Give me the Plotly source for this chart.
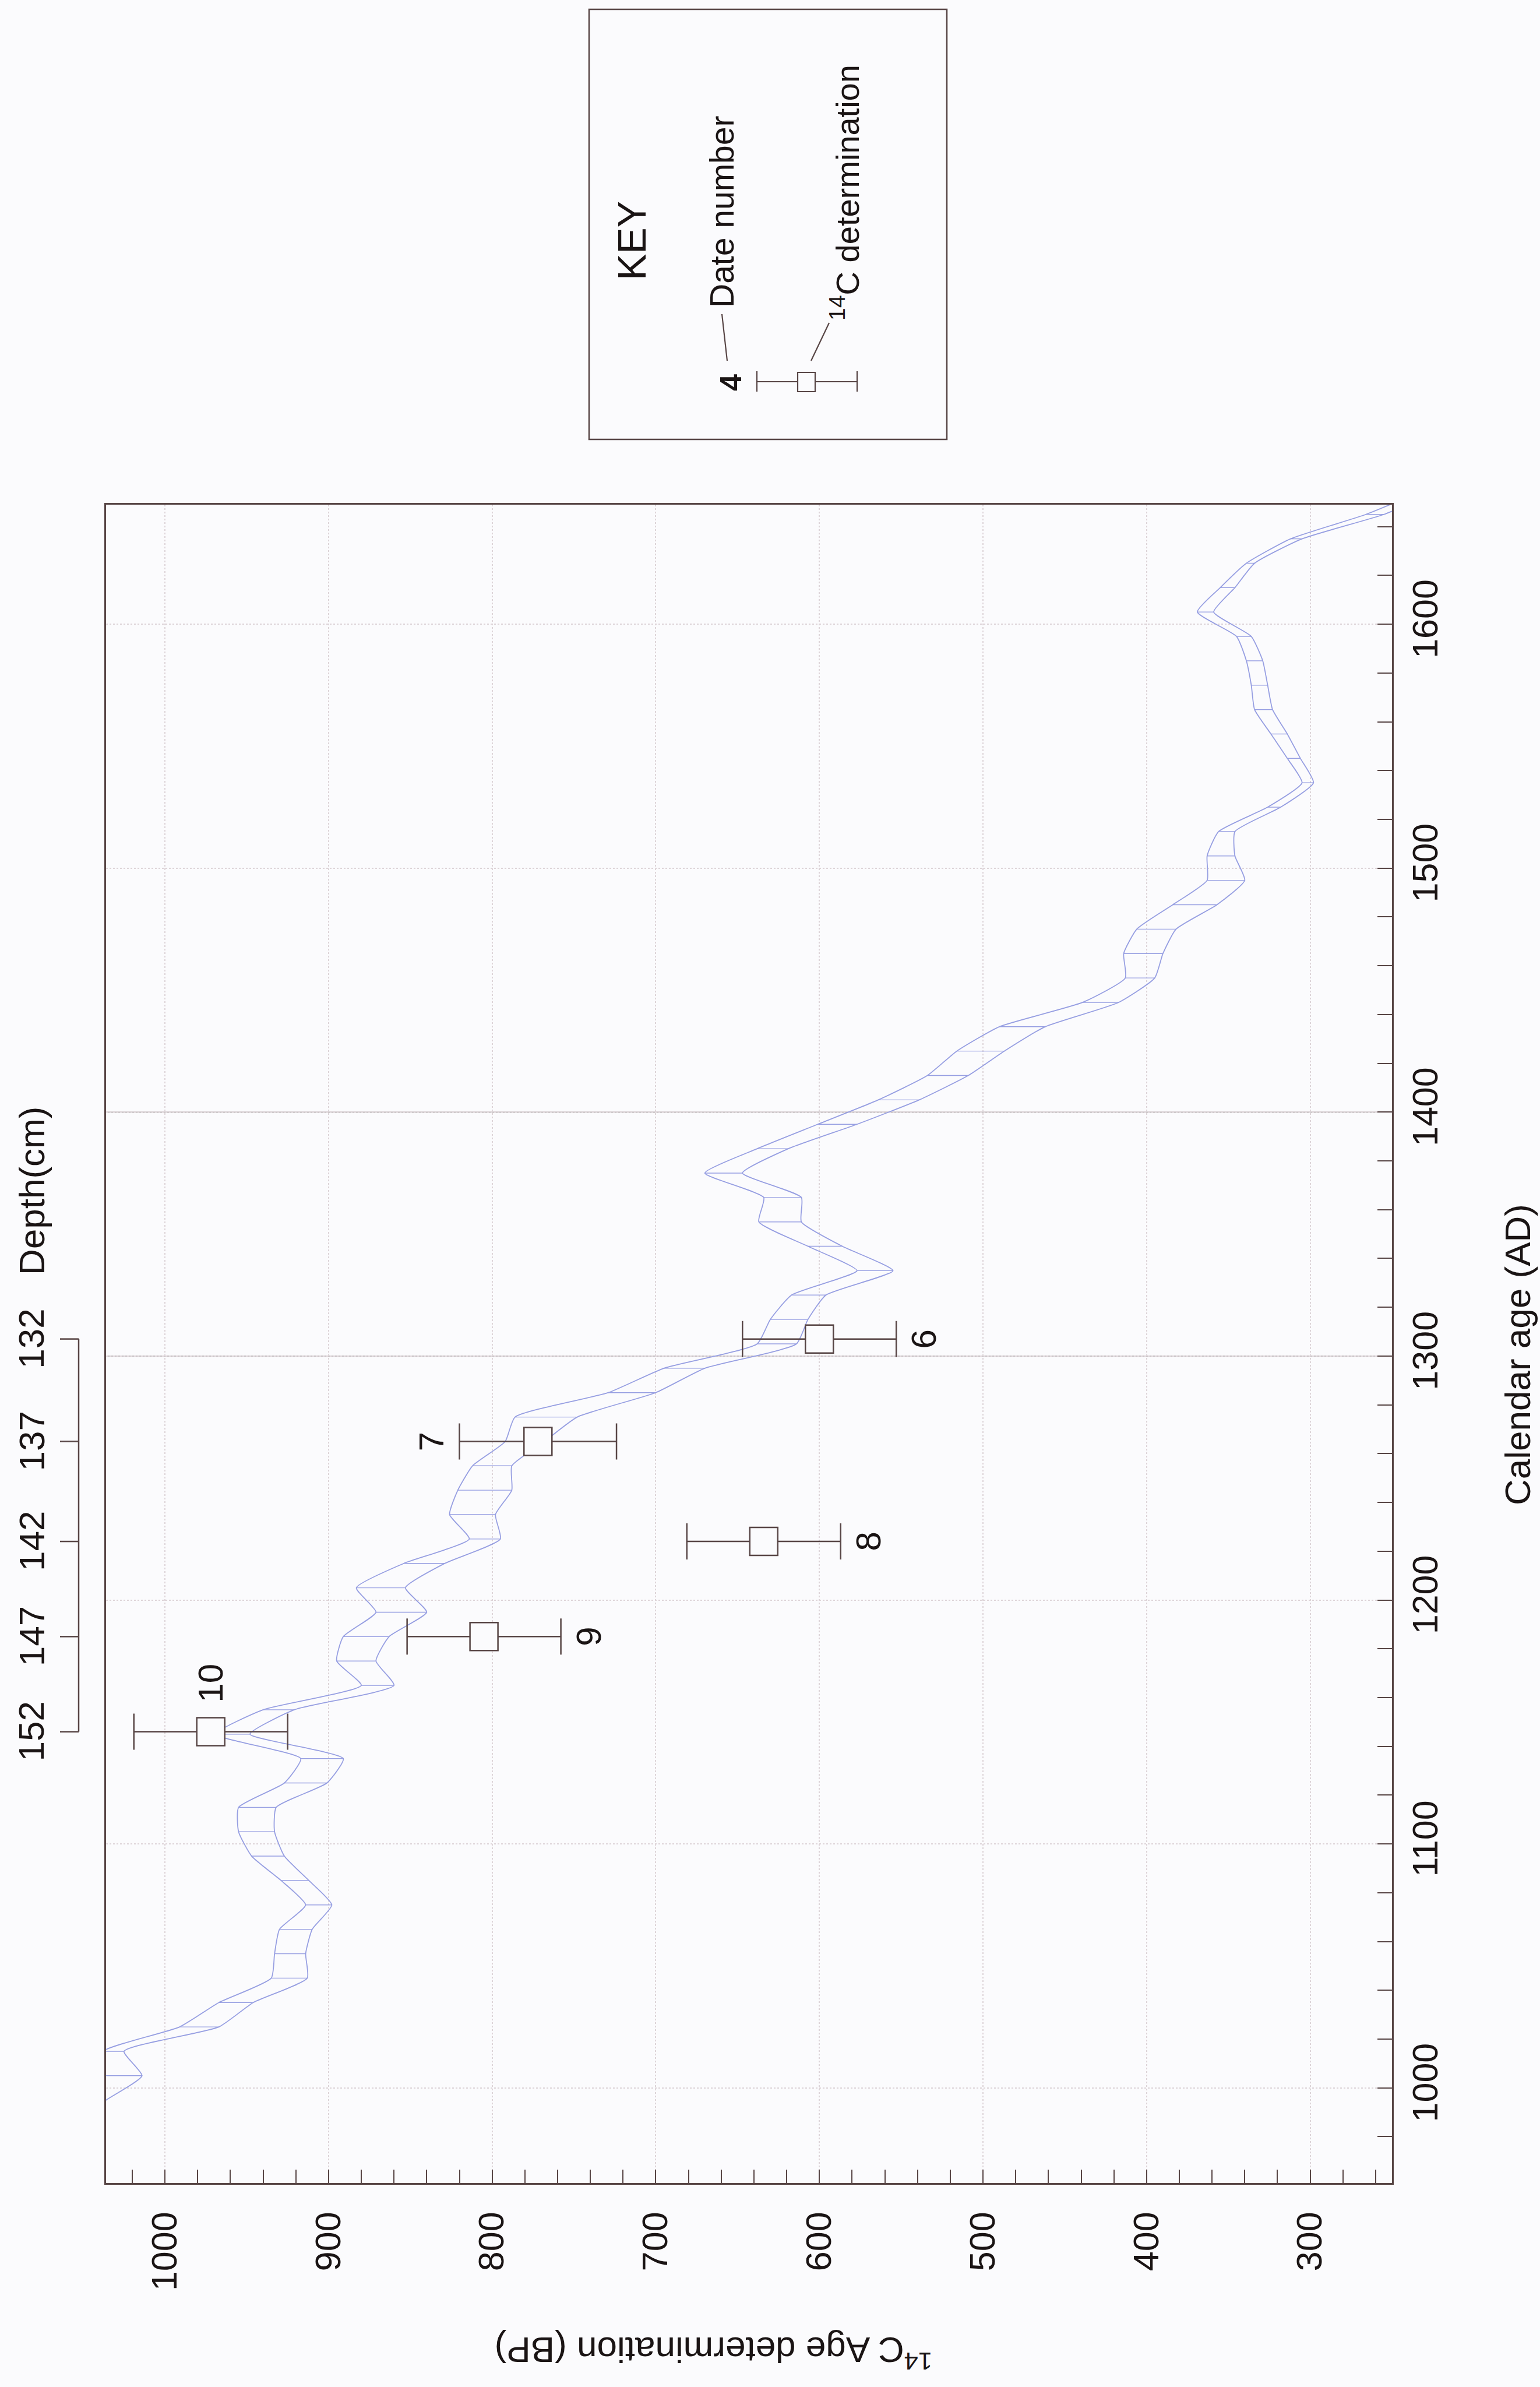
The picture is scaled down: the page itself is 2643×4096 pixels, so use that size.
import plotly.graph_objects as go

# ---------------- data ----------------
# calibration curve: calendar year AD, upper and lower 14C bound (BP)
cal_years = [985, 995, 1005, 1015, 1025, 1035, 1045, 1055, 1065, 1075, 1085, 1095,
             1105, 1115, 1125, 1135, 1145, 1155, 1165, 1175, 1185, 1195, 1205, 1215,
             1225, 1235, 1245, 1255, 1265, 1275, 1285, 1295, 1305, 1315, 1325, 1335,
             1345, 1355, 1365, 1375, 1385, 1395, 1405, 1415, 1425, 1435, 1445, 1455,
             1465, 1475, 1485, 1495, 1505, 1515, 1525, 1535, 1545, 1555, 1565, 1575,
             1585, 1595, 1605, 1615, 1625, 1635, 1645, 1655]
c14_upper = [1070, 1050, 1045, 1038, 991, 967, 935, 933, 930, 914, 929, 947,
             955, 955, 927, 917, 969, 940, 880, 895, 891, 871, 883, 854,
             814, 826, 821, 812, 792, 786, 729, 695, 638, 630, 617, 577,
             607, 637, 634, 670, 638, 601, 564, 534, 516, 490, 439, 413,
             414, 406, 384, 363, 363, 356, 326, 305, 314, 324, 334, 336,
             339, 345, 369, 355, 339, 312, 266, 230]
c14_lower = [1055, 1036, 1014, 1025, 967, 946, 913, 914, 910, 898, 912, 927,
             933, 932, 901, 891, 948, 921, 860, 871, 863, 840, 853, 829,
             795, 798, 788, 788, 768, 748, 700, 670, 614, 607, 596, 555,
             586, 611, 611, 647, 619, 577, 539, 509, 487, 462, 417, 395,
             390, 382, 357, 340, 346, 346, 318, 298, 306, 314, 323, 326,
             329, 336, 359, 346, 334, 305, 255, 220]

# radiocarbon determinations
date_numbers = [10, 9, 8, 7, 6]
depths_cm = [152, 147, 142, 137, 132]
date_cal = [1146, 1185, 1224, 1265, 1307]
date_c14 = [972, 805, 634, 772, 600]
date_err = [47, 47, 47, 48, 47]
label_side = ["top", "right", "right", "left", "right"]

bp_ticks = [300, 400, 500, 600, 700, 800, 900, 1000]
cal_ticks = [1000, 1100, 1200, 1300, 1400, 1500, 1600]
emphasised_cal_lines = [1300, 1400]

# ---------------- styling ----------------
W, H = 2643, 4096
L, R, T, B = 182, 2389, 866, 3746          # plot area in pixels
FONT = "Liberation Sans, Arial, sans-serif"
INK = "#1a1414"
FRAME = "#574545"
CURVE = "#979fe2"
BG = "#fbfbfd"


def px(sx):
    return (sx - L) / (R - L)


def py(sy):
    return (B - sy) / (B - T)


fig = go.Figure()

# band outlines
for bound in (c14_upper, c14_lower):
    fig.add_trace(go.Scatter(x=bound, y=cal_years, mode="lines",
                             line=dict(color=CURVE, width=1.8, shape="spline",
                                       smoothing=0.5),
                             hoverinfo="skip"))
# hatching between the two bounds
hx, hy = [], []
for c, u, lo in zip(cal_years, c14_upper, c14_lower):
    hx += [u, lo, None]
    hy += [c, c, None]
fig.add_trace(go.Scatter(x=hx, y=hy, mode="lines",
                         line=dict(color=CURVE, width=1.4), hoverinfo="skip"))

# determinations with error bars
fig.add_trace(go.Scatter(
    x=date_c14, y=date_cal, mode="markers",
    marker=dict(symbol="square", size=48, color=BG,
                line=dict(color=FRAME, width=2.5)),
    error_x=dict(type="data", array=date_err, color=FRAME, thickness=2.5, width=31),
    hoverinfo="skip"))

annotations = []
for n, c, b, e, side in zip(date_numbers, date_cal, date_c14, date_err, label_side):
    if side == "top":
        ax_, ay_ = b, c + 20
    elif side == "right":
        ax_, ay_ = b - e - 17, c
    else:
        ax_, ay_ = b + e + 17, c
    annotations.append(dict(x=ax_, y=ay_, xref="x", yref="y", text=str(n),
                            showarrow=False, textangle=-90,
                            font=dict(size=60, color=INK, family=FONT),
                            xanchor="center", yanchor="middle"))

# depth scale (left)
shapes = []
shapes.append(dict(type="line", xref="paper", yref="y",
                   x0=px(135), x1=px(135), y0=min(date_cal), y1=max(date_cal),
                   line=dict(color=FRAME, width=2.5)))
for d, c in zip(depths_cm, date_cal):
    shapes.append(dict(type="line", xref="paper", yref="y",
                       x0=px(103), x1=px(135), y0=c, y1=c,
                       line=dict(color=FRAME, width=2.5)))
    annotations.append(dict(x=px(54), y=c, xref="paper", yref="y", text=str(d),
                            showarrow=False, textangle=-90,
                            font=dict(size=62, color=INK, family=FONT),
                            xanchor="center", yanchor="middle"))
annotations.append(dict(x=px(54), y=py(2044), xref="paper", yref="paper",
                        text="Depth(cm)", showarrow=False, textangle=-90,
                        font=dict(size=62, color=INK, family=FONT),
                        xanchor="center", yanchor="middle"))

# emphasised calendar grid lines
for c in emphasised_cal_lines:
    shapes.append(dict(type="line", xref="paper", yref="y", x0=0, x1=1, y0=c, y1=c,
                       line=dict(color="#b3aaac", width=1.6), layer="below"))

# axis titles
annotations.append(dict(x=px(2604), y=py(2325), xref="paper", yref="paper",
                        text="Calendar age (AD)", showarrow=False, textangle=-90,
                        font=dict(size=62, color=INK, family=FONT),
                        xanchor="center", yanchor="middle"))
annotations.append(dict(x=px(1225), y=py(4037), xref="paper", yref="paper",
                        text="<sup>14</sup>C Age determination (BP)", showarrow=False,
                        textangle=180,
                        font=dict(size=62, color=INK, family=FONT),
                        xanchor="center", yanchor="middle"))

# key box
shapes.append(dict(type="rect", xref="paper", yref="paper",
                   x0=px(1011), x1=px(1625), y0=py(754), y1=py(16),
                   line=dict(color=FRAME, width=2.5), fillcolor="rgba(0,0,0,0)"))
annotations.append(dict(x=px(1084), y=py(413), xref="paper", yref="paper",
                        text="KEY", showarrow=False, textangle=-90,
                        font=dict(size=68, color=INK, family=FONT),
                        xanchor="center", yanchor="middle"))
annotations.append(dict(x=px(1239), y=py(363), xref="paper", yref="paper",
                        text="Date number", showarrow=False, textangle=-90,
                        font=dict(size=57, color=INK, family=FONT),
                        xanchor="center", yanchor="middle"))
annotations.append(dict(x=px(1254), y=py(657), xref="paper", yref="paper",
                        text="<b>4</b>", showarrow=False, textangle=-90,
                        font=dict(size=52, color=INK, family=FONT),
                        xanchor="center", yanchor="middle"))
annotations.append(dict(x=px(1450), y=py(331), xref="paper", yref="paper",
                        text="<sup>14</sup>C determination", showarrow=False,
                        textangle=-90,
                        font=dict(size=56, color=INK, family=FONT),
                        xanchor="center", yanchor="middle"))
key_lines = [((1248, 619), (1239, 539)), ((1392, 619), (1423, 554)),
             ((1299, 655), (1471, 655)), ((1299, 637), (1299, 672)),
             ((1471, 637), (1471, 672))]
for (x0, y0), (x1, y1) in key_lines:
    shapes.append(dict(type="line", xref="paper", yref="paper",
                       x0=px(x0), y0=py(y0), x1=px(x1), y1=py(y1),
                       line=dict(color=FRAME, width=2.2)))
shapes.append(dict(type="rect", xref="paper", yref="paper",
                   x0=px(1369), x1=px(1399), y0=py(672), y1=py(639),
                   line=dict(color=FRAME, width=2.2), fillcolor=BG))

axis_common = dict(
    showline=True, mirror=True, linecolor=FRAME, linewidth=3,
    showgrid=True, gridcolor="#ddd4d8", gridwidth=1.6, griddash="dot",
    zeroline=False, ticks="", tickangle=-90,
    tickfont=dict(size=61, color=INK, family=FONT),
)

fig.update_layout(
    width=W, height=H,
    margin=dict(l=L, r=W - R, t=T, b=H - B, pad=0),
    paper_bgcolor=BG, plot_bgcolor=BG,
    showlegend=False,
    xaxis=dict(range=[1036, 250], tickmode="array", tickvals=bp_ticks,
               ticklabelstandoff=22,
               minor=dict(dtick=20, tick0=0, ticks="inside", ticklen=23,
                          tickcolor=FRAME, tickwidth=2, showgrid=False),
               **axis_common),
    yaxis=dict(range=[961, 1649], side="right", tickmode="array", tickvals=cal_ticks,
               ticklabelstandoff=2,
               minor=dict(dtick=20, tick0=0, ticks="inside", ticklen=25,
                          tickcolor=FRAME, tickwidth=2, showgrid=False),
               **axis_common),
    shapes=shapes,
    annotations=annotations,
)

fig.write_html("out.html")
